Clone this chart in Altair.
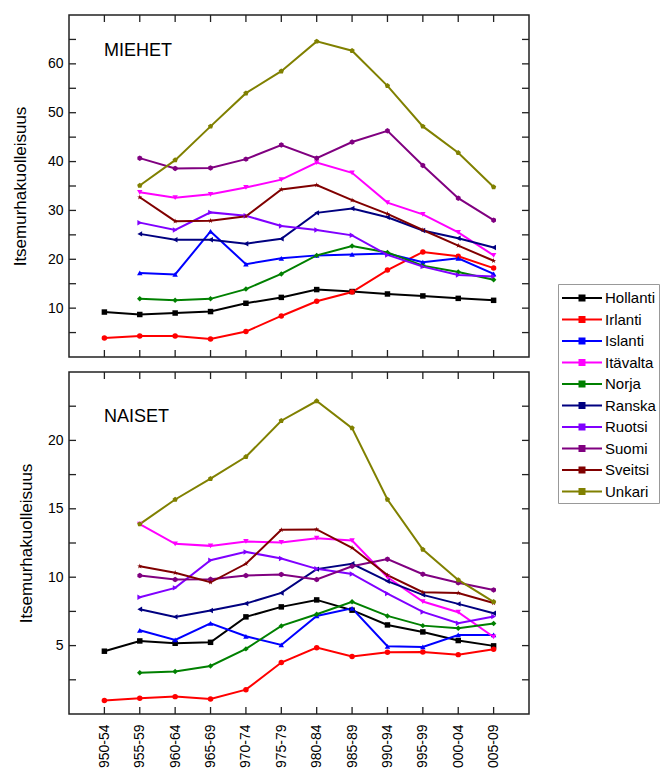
import altair as alt
import pandas as pd

periods = ["1950-54", "1955-59", "1960-64", "1965-69", "1970-74", "1975-79",
           "1980-84", "1985-89", "1990-94", "1995-99", "2000-04", "2005-09"]
countries = ["Hollanti", "Irlanti", "Islanti", "Itävalta", "Norja",
             "Ranska", "Ruotsi", "Suomi", "Sveitsi", "Unkari"]
colors = ["#000000", "#FF0000", "#0000FF", "#FF00FF", "#008000",
          "#000080", "#8000FF", "#800080", "#800000", "#808000"]
shapes = [
    "square", "circle", "triangle-up", "triangle-down", "diamond",
    "triangle-left", "triangle-right",
    "M0,-1L0.87,-0.5L0.87,0.5L0,1L-0.87,0.5L-0.87,-0.5Z",
    "M0,-1L0.22,-0.31L0.95,-0.31L0.36,0.12L0.59,0.81L0,0.38L-0.59,0.81L-0.36,0.12L-0.95,-0.31L-0.22,-0.31Z",
    "M0,-1L0.95,-0.31L0.59,0.81L-0.59,0.81L-0.95,-0.31Z",
]

# MIEHET (men)
men_hollanti = [9.2, 8.7, 9.0, 9.3, 11.0, 12.2, 13.8, 13.4, 12.9, 12.5, 12.0, 11.6]
men_irlanti = [3.9, 4.3, 4.3, 3.7, 5.2, 8.4, 11.4, 13.3, 17.8, 21.5, 20.6, 18.2]
men_islanti = [None, 17.2, 16.9, 25.7, 19.0, 20.2, 20.8, 21.0, 21.2, 19.4, 20.2, 17.0]
men_itavalta = [None, 33.7, 32.6, 33.3, 34.7, 36.3, 39.8, 37.7, 31.6, 29.2, 25.5, 20.8]
men_norja = [None, 11.9, 11.6, 11.9, 13.9, 17.0, 20.8, 22.7, 21.4, 18.7, 17.4, 15.8]
men_ranska = [None, 25.2, 24.0, 24.0, 23.2, 24.2, 29.5, 30.4, 28.6, 25.9, 24.3, 22.4]
men_ruotsi = [None, 27.5, 26.0, 29.6, 28.9, 26.8, 26.0, 24.9, 20.9, 18.5, 16.8, 16.5]
men_suomi = [None, 40.7, 38.6, 38.7, 40.5, 43.4, 40.7, 44.0, 46.3, 39.2, 32.5, 28.0]
men_sveitsi = [None, 32.7, 27.8, 27.9, 28.8, 34.3, 35.2, 32.1, 29.3, 26.0, 22.8, 19.7]
men_unkari = [None, 35.1, 40.3, 47.2, 54.0, 58.5, 64.6, 62.7, 55.5, 47.2, 41.8, 34.8]

# NAISET (women)
women_hollanti = [4.59, 5.34, 5.17, 5.24, 7.1, 7.83, 8.34, 7.59, 6.51, 6.0, 5.37, 4.98]
women_irlanti = [0.98, 1.15, 1.27, 1.1, 1.78, 3.76, 4.85, 4.2, 4.51, 4.54, 4.34, 4.73]
women_islanti = [None, 6.12, 5.41, 6.63, 5.68, 5.05, 7.17, 7.73, 4.95, 4.9, 5.78, 5.78]
women_itavalta = [None, 13.88, 12.44, 12.29, 12.61, 12.54, 12.85, 12.68, 10.0, 8.22, 7.44, 5.63]
women_norja = [None, 3.02, 3.1, 3.51, 4.76, 6.44, 7.29, 8.2, 7.17, 6.46, 6.27, 6.61]
women_ranska = [None, 7.66, 7.1, 7.56, 8.07, 8.85, 10.59, 10.98, 9.71, 8.71, 8.05, 7.37]
women_ruotsi = [None, 8.54, 9.22, 11.24, 11.85, 11.37, 10.61, 10.24, 8.8, 7.46, 6.63, 7.12]
women_suomi = [None, 10.12, 9.83, 9.85, 10.12, 10.2, 9.83, 10.8, 11.32, 10.22, 9.59, 9.07]
women_sveitsi = [None, 10.8, 10.32, 9.63, 10.98, 13.46, 13.49, 12.15, 10.15, 8.9, 8.85, 8.12]
women_unkari = [None, 13.88, 15.68, 17.2, 18.8, 21.44, 22.88, 20.9, 15.68, 12.02, 9.8, 8.2]

men = dict(zip(countries, [men_hollanti, men_irlanti, men_islanti, men_itavalta, men_norja,
                           men_ranska, men_ruotsi, men_suomi, men_sveitsi, men_unkari]))
women = dict(zip(countries, [women_hollanti, women_irlanti, women_islanti, women_itavalta, women_norja,
                             women_ranska, women_ruotsi, women_suomi, women_sveitsi, women_unkari]))
shape_of = dict(zip(countries, shapes))

FONT = "Liberation Sans"
YTITLE = "Itsemurhakuolleisuus"
W, H, TL = 460, 342, 7
TICK = "#222222"
label_expr_x = "[" + ",".join("'%s'" % p for p in periods) + "][datum.value]"

color_enc_legend = alt.Color(
    "maa:N", scale=alt.Scale(domain=countries, range=colors), title=None,
    legend=alt.Legend(
        orient="none", legendX=489, legendY=269,
        symbolType="M-1,0H3M0.75,-0.25H1.25V0.25H0.75Z",
        symbolSize=400, symbolStrokeWidth=2,
        labelFont=FONT, labelFontSize=15, labelColor="black",
        rowPadding=2.5, padding=3, strokeColor="#999999", fillColor="white",
        labelOffset=22,
    ),
)
color_enc = alt.Color("maa:N", scale=alt.Scale(domain=countries, range=colors), legend=None)
shape_enc = alt.Shape("shp:N", scale=None, legend=None)


def make_panel(vals, ymax, ystep, lab_mod, name, name_y, show_labels, title_pad):
    rows = []
    for c in countries:
        for i, v in enumerate(vals[c]):
            if v is not None:
                rows.append({"idx": i, "period": periods[i], "maa": c, "shp": shape_of[c], "value": v})
    df = pd.DataFrame(rows)
    base = alt.Chart(df)
    xscale = alt.Scale(domain=[-1, 12], nice=False, zero=False)
    yscale = alt.Scale(domain=[0, ymax], nice=False, zero=False)
    yticks = []
    t = ystep
    while t < ymax - 1e-9:
        yticks.append(round(t, 2))
        t += ystep
    y_label_expr = "abs(datum.value %% %s) < 0.001 ? datum.label : ''" % lab_mod

    x_axis = alt.Axis(orient="bottom", values=list(range(12)), ticks=False,
                      labels=show_labels, labelExpr=label_expr_x, labelAngle=270,
                      labelPadding=10, labelFlush=False, labelOverlap=False,
                      domain=False, grid=False)
    y_axis = alt.Axis(orient="left", values=yticks, ticks=False,
                      labelExpr=y_label_expr, labelPadding=6, labelOverlap=False,
                      titlePadding=title_pad, domain=False, grid=False)

    def X():
        return alt.X("idx:Q", scale=xscale, title=None, axis=x_axis)

    def Y():
        return alt.Y("value:Q", scale=yscale, title=YTITLE, axis=y_axis)

    lines = base.mark_line(strokeWidth=2).encode(x=X(), y=Y(), color=color_enc_legend,
                                                 order="idx:Q")
    points = base.mark_point(filled=True, size=30, opacity=1).encode(
        x=X(), y=Y(), color=color_enc, shape=shape_enc)

    # inward tick marks on all four sides, placed through the scales
    yt = alt.Chart(pd.DataFrame({"value": yticks}))
    xt = alt.Chart(pd.DataFrame({"idx": list(range(12))}))
    tick_kw = dict(color=TICK, strokeWidth=1.3)
    tl = yt.mark_rule(**tick_kw).encode(y=Y(), x=alt.value(0), x2=alt.value(TL))
    tr = yt.mark_rule(**tick_kw).encode(y=Y(), x=alt.value(W - TL), x2=alt.value(W))
    tt = xt.mark_rule(**tick_kw).encode(x=X(), y=alt.value(0), y2=alt.value(TL))
    tb = xt.mark_rule(**tick_kw).encode(x=X(), y=alt.value(H - TL), y2=alt.value(H))

    label = alt.Chart(pd.DataFrame({"t": [name]})).mark_text(
        align="left", baseline="alphabetic", font=FONT, fontSize=18, color="black"
    ).encode(x=alt.value(35), y=alt.value(name_y), text="t:N")
    return alt.layer(lines, points, tl, tr, tt, tb, label).properties(width=W, height=H)


top = make_panel(men, 70, 5, 10, "MIEHET", 41, False, 18)
bottom = make_panel(women, 25, 2.5, 5, "NAISET", 50, True, 12)

chart = alt.vconcat(top, bottom, spacing=11).properties(
    padding={"left": 2, "top": 5, "right": 0, "bottom": -8}
).configure_view(
    stroke="#222222", strokeWidth=1.5
).configure_axis(
    labelFont=FONT, labelFontSize=14, labelColor="black",
    titleFont=FONT, titleFontSize=17, titleFontWeight="normal", titleColor="black",
)

chart.save("out.html", embed_options={"renderer": "svg", "actions": False})
